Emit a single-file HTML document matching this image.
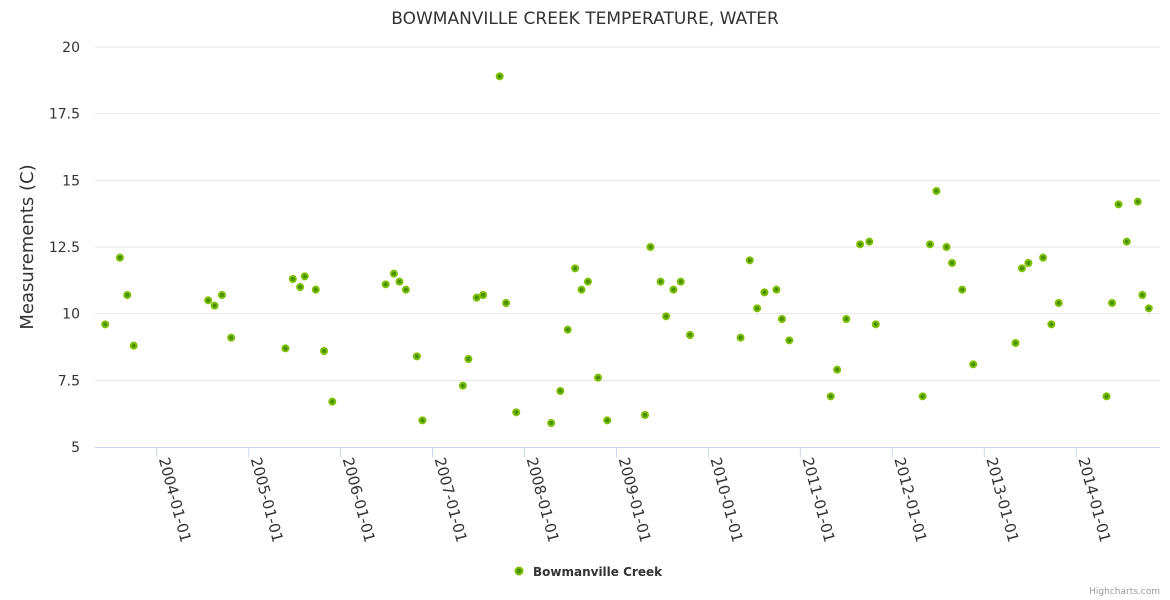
<!DOCTYPE html>
<html><head><meta charset="utf-8">
<style>
html,body{margin:0;padding:0;background:#fff;}
svg{display:block;font-family:"DejaVu Sans","Liberation Sans",sans-serif;}
</style></head>
<body>
<svg id="chart" width="1170" height="600">
<text x="585" y="24" text-anchor="middle" font-size="17" fill="#333">BOWMANVILLE CREEK TEMPERATURE, WATER</text>
<text transform="translate(33,247) rotate(-90)" text-anchor="middle" font-size="18" fill="#333">Measurements (C)</text>
<g id="grid"></g><g id="xaxis"></g><g id="points"></g>
<g>
<circle cx="519" cy="571" r="3.5" fill="#4a8f00" stroke="#7cc000" stroke-width="2"/>
<text x="533" y="576" font-size="12" font-weight="bold" fill="#333">Bowmanville Creek</text>
</g>
<text x="1160" y="594" text-anchor="end" font-size="9" fill="#999">Highcharts.com</text>
</svg>
<script>
const yTicks=[5,7.5,10,12.5,15,17.5,20];
const xTickYears=[2004,2005,2006,2007,2008,2009,2010,2011,2012,2013,2014];
const dates=[2003.44,2003.60,2003.68,2003.75,2004.56,2004.63,2004.71,2004.81,2005.40,2005.48,2005.56,2005.61,2005.73,2005.82,2005.91,2006.49,2006.58,2006.64,2006.71,2006.83,2006.89,2007.33,2007.39,2007.48,2007.55,2007.73,2007.80,2007.91,2008.29,2008.39,2008.47,2008.55,2008.62,2008.69,2008.80,2008.90,2009.31,2009.37,2009.48,2009.54,2009.62,2009.70,2009.80,2010.35,2010.45,2010.53,2010.61,2010.74,2010.80,2010.88,2011.33,2011.40,2011.50,2011.65,2011.75,2011.82,2012.33,2012.41,2012.48,2012.59,2012.65,2012.76,2012.88,2013.34,2013.41,2013.48,2013.64,2013.73,2013.81,2014.33,2014.39,2014.46,2014.55,2014.67,2014.72,2014.79];
const temps=[9.6,12.1,10.7,8.8,10.5,10.3,10.7,9.1,8.7,11.3,11.0,11.4,10.9,8.6,6.7,11.1,11.5,11.2,10.9,8.4,6.0,7.3,8.3,10.6,10.7,18.9,10.4,6.3,5.9,7.1,9.4,11.7,10.9,11.2,7.6,6.0,6.2,12.5,11.2,9.9,10.9,11.2,9.2,9.1,12.0,10.2,10.8,10.9,9.8,9.0,6.9,7.9,9.8,12.6,12.7,9.6,6.9,12.6,14.6,12.5,11.9,10.9,8.1,8.9,11.7,11.9,12.1,9.6,10.4,6.9,10.4,14.1,12.7,14.2,10.7,10.2];
const NS="http://www.w3.org/2000/svg";
const L=95,R=1160,T=47,B=447;
const yS=v=>B-(v-5)/15*(B-T);
const xS=d=>156.7+(d-2004)*91.95;
function mk(tag,attrs,parent){const e=document.createElementNS(NS,tag);for(const k in attrs)e.setAttribute(k,attrs[k]);document.getElementById(parent).appendChild(e);return e;}
yTicks.forEach(v=>{
  if(v>5){const g=mk('line',{x1:L,x2:R,y1:yS(v),y2:yS(v),stroke:'#e6e6e6','stroke-width':1},'grid');
  
  }
  const t=mk('text',{x:80,y:yS(v)+5,'text-anchor':'end','font-size':14,fill:'#333'},'grid');
  t.textContent=String(v);
  
  
});
const ax=mk('line',{x1:L,x2:R,y1:B+0.5,y2:B+0.5,stroke:'#ccd6eb','stroke-width':1},'xaxis');


xTickYears.forEach(y=>{
  const x=xS(y);
  const tk=mk('line',{x1:x,x2:x,y1:B,y2:B+10,stroke:'#ccd6eb'},'xaxis');
  
  
  const t=mk('text',{transform:`translate(${x+2},${B+12}) rotate(75)`,'font-size':15,fill:'#333'},'xaxis');
  t.textContent=y+'-01-01';
  
  
});
dates.forEach((d,i)=>{
  const c=mk('circle',{cx:xS(d),cy:yS(temps[i]),r:3,fill:'#4a8f00',stroke:'#7cc000','stroke-width':2},'points');
  
  
});
</script>
</body></html>
